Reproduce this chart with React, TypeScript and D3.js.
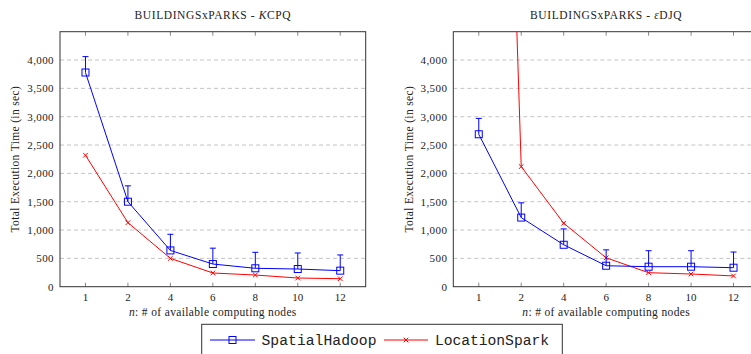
import React, { useEffect, useRef } from 'react';
import * as d3 from 'd3';

const nodes = ['1', '2', '4', '6', '8', '10', '12'];
const yTicks = [0, 500, 1000, 1500, 2000, 2500, 3000, 3500, 4000];

// KCPQ panel
const kcpqSpatialHadoop = [3780, 1500, 640, 400, 325, 312, 283];
const kcpqSpatialHadoopUpper = [4060, 1780, 925, 680, 607, 595, 560];
const kcpqLocationSpark = [2320, 1130, 500, 242, 206, 153, 141];

// eps-DJQ panel
const djqSpatialHadoop = [2690, 1220, 740, 370, 353, 353, 335];
const djqSpatialHadoopUpper = [2970, 1480, 1020, 650, 635, 635, 612];
const djqLocationSpark = [25300, 2120, 1120, 510, 247, 224, 190];

const FONT = '"Liberation Serif", serif';
const MONO = '"Liberation Mono", monospace';
const BLUE = '#0000ff';
const RED = '#ff0000';

const App = () => {
  const svgRef = useRef<SVGSVGElement>(null);

  useEffect(() => {
    const svg = d3.select(svgRef.current);
    svg.selectAll('*').remove();

    const top = 31.7;
    const bottom = 286.7;
    const plotW = 305.7;

    const y = d3.scaleLinear().domain([0, 4500]).range([bottom, top]);

    const panels = [
      {
        id: 'kcpq', left: 60, labelX: 15,
        title: ['BUILDINGSxPARKS - ', 'K', 'CPQ'],
        sh: kcpqSpatialHadoop, shUp: kcpqSpatialHadoopUpper, ls: kcpqLocationSpark,
      },
      {
        id: 'djq', left: 453.3, labelX: 408.5,
        title: ['BUILDINGSxPARKS - ', 'ε', 'DJQ'],
        sh: djqSpatialHadoop, shUp: djqSpatialHadoopUpper, ls: djqLocationSpark,
      },
    ];

    panels.forEach(p => {
      const x = d3.scalePoint().domain(nodes).range([p.left, p.left + plotW]).padding(0.6);
      const g = svg.append('g');

      g.append('clipPath').attr('id', `clip-${p.id}`)
        .append('rect')
        .attr('x', p.left).attr('y', top)
        .attr('width', plotW).attr('height', bottom - top);

      // grid
      g.append('g').selectAll('line')
        .data(yTicks.filter(t => t > 0))
        .enter().append('line')
        .attr('x1', p.left).attr('x2', p.left + plotW)
        .attr('y1', d => y(d)).attr('y2', d => y(d))
        .attr('stroke', '#c4c4c4').attr('stroke-dasharray', '4,3').attr('stroke-width', 1);

      // x ticks top + bottom
      const tk = g.append('g');
      nodes.forEach(n => {
        tk.append('line').attr('x1', x(n)!).attr('x2', x(n)!)
          .attr('y1', bottom).attr('y2', bottom - 4)
          .attr('stroke', '#888').attr('stroke-width', 1);
        tk.append('line').attr('x1', x(n)!).attr('x2', x(n)!)
          .attr('y1', top).attr('y2', top + 4)
          .attr('stroke', '#888').attr('stroke-width', 1);
      });

      // frame
      g.append('rect')
        .attr('x', p.left).attr('y', top)
        .attr('width', plotW).attr('height', bottom - top)
        .attr('fill', 'none').attr('stroke', '#333').attr('stroke-width', 1);

      // tick labels
      g.append('g').selectAll('text')
        .data(yTicks).enter().append('text')
        .attr('x', p.left - 6).attr('y', d => y(d))
        .attr('dy', '0.35em').attr('text-anchor', 'end')
        .style('font-family', FONT).style('font-size', '11px').style('letter-spacing', '0.4px')
        .style('fill', '#222')
        .text(d => d3.format(',')(d));

      g.append('g').selectAll('text')
        .data(nodes).enter().append('text')
        .attr('x', d => x(d)!).attr('y', bottom + 10)
        .attr('dy', '0.35em').attr('text-anchor', 'middle')
        .style('font-family', FONT).style('font-size', '11px').style('fill', '#222')
        .text(d => d);

      // titles / labels
      const t = g.append('text')
        .attr('x', p.left + plotW / 2).attr('y', 15).attr('dy', '0.35em')
        .attr('text-anchor', 'middle')
        .style('font-family', FONT).style('font-size', '11.5px').style('letter-spacing', '0.6px')
        .style('fill', '#222');
      t.append('tspan').text(p.title[0]);
      t.append('tspan').style('font-style', 'italic').text(p.title[1]);
      t.append('tspan').text(p.title[2]);

      const xl = g.append('text')
        .attr('x', p.left + plotW / 2).attr('y', 311.5).attr('dy', '0.35em')
        .attr('text-anchor', 'middle')
        .style('font-family', FONT).style('font-size', '11.5px').style('letter-spacing', '0.35px')
        .style('fill', '#222');
      xl.append('tspan').style('font-style', 'italic').text('n');
      xl.append('tspan').text(': # of available computing nodes');

      g.append('text')
        .attr('transform', `translate(${p.labelX}, ${(top + bottom) / 2}) rotate(-90)`)
        .attr('dy', '0.35em').attr('text-anchor', 'middle')
        .style('font-family', FONT).style('font-size', '11.5px').style('letter-spacing', '0.35px')
        .style('fill', '#222')
        .text('Total Execution Time (in sec)');

      const plot = g.append('g').attr('clip-path', `url(#clip-${p.id})`);
      const line = d3.line<number>().x((d, i) => x(nodes[i])!).y(d => y(d));

      // LocationSpark
      plot.append('path').datum(p.ls).attr('d', line)
        .attr('fill', 'none').attr('stroke', RED).attr('stroke-width', 1);
      plot.selectAll('.ls').data(p.ls).enter().append('path')
        .attr('class', 'ls')
        .attr('transform', (d, i) => `translate(${x(nodes[i])}, ${y(d)})`)
        .attr('d', 'M-2.3,-2.3L2.3,2.3M-2.3,2.3L2.3,-2.3')
        .attr('stroke', RED).attr('stroke-width', 1);

      // SpatialHadoop error bars
      plot.selectAll('.err').data(p.sh).enter().append('path')
        .attr('class', 'err')
        .attr('d', (d, i) => {
          const cx = x(nodes[i])!;
          const y0 = y(d);
          const y1 = y(p.shUp[i]);
          return `M${cx},${y0}V${y1}M${cx - 3},${y1}H${cx + 3}`;
        })
        .attr('fill', 'none').attr('stroke', BLUE).attr('stroke-width', 1);

      plot.append('path').datum(p.sh).attr('d', line)
        .attr('fill', 'none').attr('stroke', BLUE).attr('stroke-width', 1);
      plot.selectAll('.sh').data(p.sh).enter().append('rect')
        .attr('class', 'sh')
        .attr('x', (d, i) => x(nodes[i])! - 3.5).attr('y', d => y(d) - 3.5)
        .attr('width', 7).attr('height', 7)
        .attr('fill', 'none').attr('stroke', BLUE).attr('stroke-width', 1);
    });

    // legend
    const lg = svg.append('g');
    lg.append('rect')
      .attr('x', 201.7).attr('y', 324.3).attr('width', 360.6).attr('height', 40)
      .attr('fill', 'white').attr('stroke', '#333').attr('stroke-width', 1);

    const ly = 340;
    lg.append('line').attr('x1', 210).attr('x2', 255).attr('y1', ly).attr('y2', ly)
      .attr('stroke', BLUE).attr('stroke-width', 1);
    lg.append('rect').attr('x', 229).attr('y', ly - 3.5).attr('width', 7).attr('height', 7)
      .attr('fill', 'none').attr('stroke', BLUE).attr('stroke-width', 1);
    lg.append('text').attr('x', 261.5).attr('y', ly).attr('dy', '0.35em')
      .attr('textLength', 115)
      .style('font-family', MONO).style('font-size', '14.7px').style('fill', '#222')
      .text('SpatialHadoop');

    lg.append('line').attr('x1', 384).attr('x2', 428).attr('y1', ly).attr('y2', ly)
      .attr('stroke', RED).attr('stroke-width', 1);
    lg.append('path').attr('transform', `translate(406, ${ly})`)
      .attr('d', 'M-2.3,-2.3L2.3,2.3M-2.3,2.3L2.3,-2.3')
      .attr('stroke', RED).attr('stroke-width', 1);
    lg.append('text').attr('x', 435).attr('y', ly).attr('dy', '0.35em')
      .attr('textLength', 114)
      .style('font-family', MONO).style('font-size', '14.7px').style('fill', '#222')
      .text('LocationSpark');
  }, []);

  return (
    <svg
      ref={svgRef}
      width={751}
      height={354}
      style={{ position: 'absolute', left: 0, top: 0, background: 'white' }}
    />
  );
};

export default App;
